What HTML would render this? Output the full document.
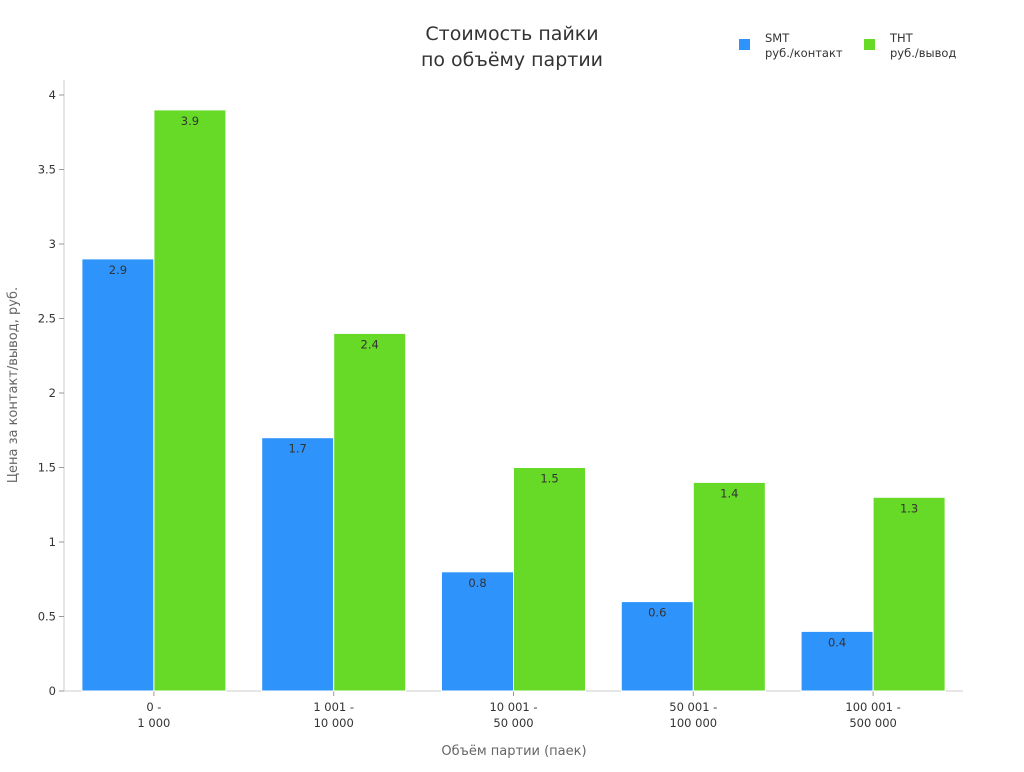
<!DOCTYPE html>
<html><head><meta charset="utf-8"><style>
body{margin:0;background:#fff;font-family:"DejaVu Sans","Liberation Sans",sans-serif;}
</style></head><body>
<svg id="c" width="1024" height="768" xmlns="http://www.w3.org/2000/svg" font-family="DejaVu Sans, Liberation Sans, sans-serif">
<text x="512" y="40" text-anchor="middle" font-size="19" fill="#333">Стоимость пайки</text>
<text x="512" y="66" text-anchor="middle" font-size="19" fill="#333">по объёму партии</text>
<g>
<rect x="739" y="39" width="11" height="11" fill="#2E93FA"/>
<text x="765" y="42" font-size="11.5" fill="#333"><tspan x="765">SMT</tspan><tspan x="765" dy="15">руб./контакт</tspan></text>
<rect x="864" y="39" width="11" height="11" fill="#66DA26"/>
<text x="890" y="42" font-size="11.5" fill="#333"><tspan x="890">THT</tspan><tspan x="890" dy="15">руб./вывод</tspan></text>
</g>
<text transform="translate(17,385) rotate(-90)" text-anchor="middle" font-size="13" fill="#666">Цена за контакт/вывод, руб.</text>
<text x="514" y="755" text-anchor="middle" font-size="13" fill="#666">Объём партии (паек)</text>
<g id="plot"></g>
</svg>
<script>
const categories=[["0 -","1 000"],["1 001 -","10 000"],["10 001 -","50 000"],["50 001 -","100 000"],["100 001 -","500 000"]];
const smtValues=[2.9,1.7,0.8,0.6,0.4];
const thtValues=[3.9,2.4,1.5,1.4,1.3];
const yTicks=[0,0.5,1,1.5,2,2.5,3,3.5,4];
const yTickLabels=["0","0.5","1","1.5","2","2.5","3","3.5","4"];
const NS="http://www.w3.org/2000/svg";
const g=document.getElementById('plot');
const L=64,R=963,T=80,B=691;
const y=v=>B-v*149;
const band=(R-L)/categories.length;
const x=i=>L+band*i+band/2;
function mk(t,a){const e=document.createElementNS(NS,t);for(const k in a)e.setAttribute(k,a[k]);g.appendChild(e);return e;}
let ax=mk('line',{x1:L,y1:T,x2:L,y2:B,stroke:'#ccc'});


let bx=mk('line',{x1:L,y1:B,x2:R,y2:B,stroke:'#ccc'});


yTicks.forEach((v,i)=>{
 let t=mk('line',{x1:L-5,x2:L,y1:y(v),y2:y(v),stroke:'#999'});
 
 
 let l=mk('text',{x:L-8,y:y(v)+4,'text-anchor':'end','font-size':11.5,fill:'#333'});
 l.textContent=yTickLabels[i];
 
 
});
const bw=72;
categories.forEach((c,i)=>{
 const cx=x(i);
 let t=mk('line',{x1:cx,x2:cx,y1:B,y2:B+5,stroke:'#999'});
 
 
 let l=mk('text',{x:cx,y:711,'text-anchor':'middle','font-size':11.5,fill:'#333'});
 l.innerHTML='<tspan x="'+cx+'">'+c[0]+'</tspan><tspan x="'+cx+'" dy="16">'+c[1]+'</tspan>';
 
 
 [[smtValues[i],'#2E93FA',cx-bw,'smt'],[thtValues[i],'#66DA26',cx,'tht']].forEach(([v,col,bx0,s])=>{
  let r=mk('rect',{x:bx0,y:y(v),width:bw,height:B-y(v),fill:col,stroke:'#fff','stroke-width':1});
  
  
  let tl=mk('text',{x:bx0+bw/2,y:y(v)+15,'text-anchor':'middle','font-size':11.5,fill:'#333'});
  tl.textContent=v;
  
  
 });
});
</script>
</body></html>
